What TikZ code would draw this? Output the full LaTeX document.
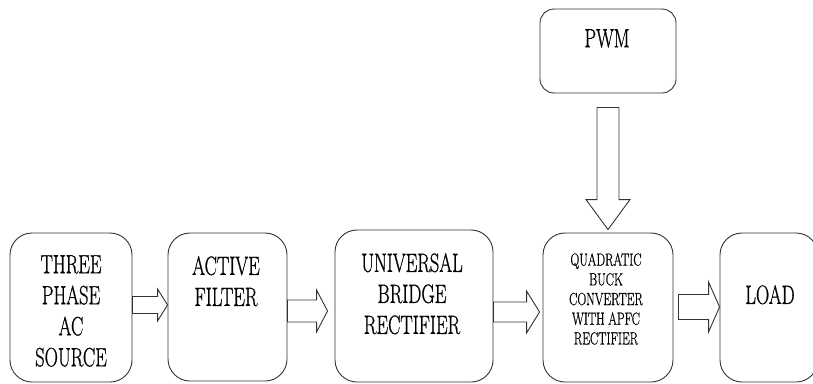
\documentclass[tikz,border=0pt]{standalone}
\usepackage{fontspec}
\usepackage{graphicx}
\newfontfamily\lmbold[FakeBold=1.0]{Latin Modern Roman}
\usetikzlibrary{calc}
\newcommand\sqz[1]{\scalebox{0.70}[1]{#1}}
\tikzset{
  blk/.style={draw=black!80, line width=0.9pt, rounded corners=22pt, inner sep=0pt, fill=white},
  pwmblk/.style={draw=black!80, line width=0.9pt, rounded corners=14pt, inner sep=0pt, fill=white},
  bigtxt/.style={anchor=north, inner sep=0pt, align=center, font=\lmbold\fontsize{26.4}{31}\selectfont},
  smalltxt/.style={anchor=north, inner sep=0pt, align=center, font=\lmbold\fontsize{17.6}{19.7}\selectfont},
  arrowline/.style={draw=black!80, line width=0.9pt, line join=miter, fill=white}
}
% horizontal block arrow: #1 start point, #2 tip point, #3 shaft half-width, #4 head half-width, #5 head length
\newcommand\hblockarrow[5]{%
  \draw[arrowline] let \p1=(#1), \p2=(#2) in
    ({\x1},{\y2+#3}) -- ({\x2-#5},{\y2+#3}) -- ({\x2-#5},{\y2+#4}) -- (\p2)
    -- ({\x2-#5},{\y2-#4}) -- ({\x2-#5},{\y2-#3}) -- ({\x1},{\y2-#3}) -- cycle;}
% vertical (downward) block arrow
\newcommand\vblockarrow[5]{%
  \draw[arrowline] let \p1=(#1), \p2=(#2) in
    ({\x2-#3},{\y1}) -- ({\x2-#3},{\y2+#5}) -- ({\x2-#4},{\y2+#5}) -- (\p2)
    -- ({\x2+#4},{\y2+#5}) -- ({\x2+#3},{\y2+#5}) -- ({\x2+#3},{\y1}) -- cycle;}
\begin{document}
\begin{tikzpicture}[x=1pt, y=-1pt]
\useasboundingbox (0,0) rectangle (813,383);
\clip (0,0) rectangle (813,383);
\fill[white] (0,0) rectangle (813,383);

% boxes
\node[blk, minimum width=122pt, minimum height=149pt] (b1) at (71,307.5) {};
\node[blk, minimum width=119pt, minimum height=148pt] (b2) at (227.5,307) {};
\node[blk, minimum width=158pt, minimum height=152pt] (b3) at (414,306) {};
\node[blk, minimum width=130pt, minimum height=149pt] (b4) at (608,307.5) {};
\node[blk, minimum width=98pt, minimum height=149pt] (b5) at (769,307.5) {};
\node[pwmblk, minimum width=136pt, minimum height=84pt] (pwm) at (608,51) {};

% texts
\node[bigtxt] (t1) at (71,255) {\sqz{THREE}\\\sqz{PHASE}\\\sqz{AC}\\\sqz{SOURCE}};
\node[bigtxt] (t2) at (226,256) {\sqz{ACTIVE}\\\sqz{FILTER}};
\node[bigtxt] (t3) at (412,253) {\sqz{UNIVERSAL}\\\sqz{BRIDGE}\\\sqz{RECTIFIER}};
\node[smalltxt] (t4) at (606,253) {\sqz{QUADRATIC}\\\sqz{BUCK}\\\sqz{CONVERTER}\\\sqz{WITH APFC}\\\sqz{RECTIFIER}};
\node[bigtxt] (t5) at (770,285) {\sqz{LOAD}};
\node[bigtxt] (t6) at (607,29) {\sqz{PWM}};

% arrow end points
\coordinate (a1s) at (b1.east);
\coordinate (a1t) at ($(b2.west |- 0,305)$);
\coordinate (a2s) at (b2.east);
\coordinate (a2t) at ($(b3.west |- 0,311) + (-7,0)$);
\coordinate (a3s) at (b3.east);
\coordinate (a3t) at ($(b4.west |- 0,312) + (-3,0)$);
\coordinate (a4s) at ($(b4.east) + (5,0)$);
\coordinate (a4t) at ($(b5.west |- 0,307)$);
\coordinate (a5s) at ($(pwm.south) + (0,14)$);
\coordinate (a5t) at ($(b4.north) + (0,-3)$);

\hblockarrow{a1s}{a1t}{8.5pt}{16pt}{10pt}
\hblockarrow{a2s}{a2t}{11pt}{21pt}{11pt}
\hblockarrow{a3s}{a3t}{10pt}{21pt}{13pt}
\hblockarrow{a4s}{a4t}{12.5pt}{25pt}{11pt}
\vblockarrow{a5s}{a5t}{11pt}{22pt}{30pt}
\end{tikzpicture}
\end{document}
